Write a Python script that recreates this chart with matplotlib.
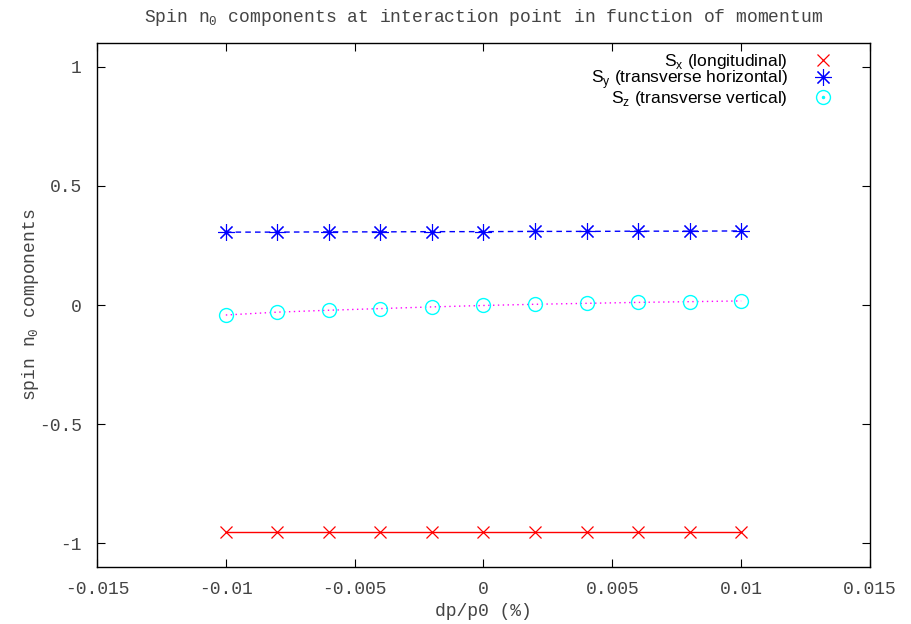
import numpy as np
import matplotlib.pyplot as plt
from matplotlib.lines import Line2D
from matplotlib.legend_handler import HandlerTuple

# momentum deviation and spin n0 components
dp = [-0.010, -0.008, -0.006, -0.004, -0.002, 0.000, 0.002, 0.004, 0.006, 0.008, 0.010]
s_x = [-0.953, -0.953, -0.953, -0.953, -0.953, -0.953, -0.953, -0.953, -0.953, -0.953, -0.953]
s_y = [0.306, 0.306, 0.307, 0.307, 0.308, 0.308, 0.309, 0.309, 0.310, 0.310, 0.311]
s_z = [-0.042, -0.030, -0.022, -0.015, -0.008, -0.002, 0.003, 0.007, 0.011, 0.014, 0.017]

x_ticks = [-0.015, -0.01, -0.005, 0, 0.005, 0.01, 0.015]
y_ticks = [-1, -0.5, 0, 0.5, 1]
x_ticklabels = ['-0.015', '-0.01', '-0.005', '0', '0.005', '0.01', '0.015']
y_ticklabels = ['-1', '-0.5', '0', '0.5', '1']

mono = 'Liberation Mono'
sans = 'Liberation Sans'
txt_col = '#444444'
plt.rcParams['mathtext.fontset'] = 'custom'
plt.rcParams['mathtext.rm'] = sans
plt.rcParams['mathtext.tt'] = mono
plt.rcParams['axes.unicode_minus'] = False

fig = plt.figure(figsize=(9.12, 6.24), dpi=100)
ax = fig.add_axes([97 / 912, 57 / 624, 773 / 912, 524 / 624])

ax.plot(dp, s_x, color='red', lw=1.0, marker='x', ms=9, mew=0.9)
ax.plot(dp, s_y, color='blue', lw=1.0, ls=(0, (4, 3)), marker=(8, 2, 0), ms=12, mew=0.8)
ax.plot(dp, s_z, color='magenta', lw=1.0, ls=(0, (1, 2.5)))
ax.plot(dp, s_z, color='cyan', ls='none', marker='o', mfc='none', ms=10, mew=1.0)

ax.set_xlim(-0.015, 0.015)
ax.set_ylim(-1.1, 1.1)
ax.set_xticks(x_ticks)
ax.set_xticklabels(x_ticklabels)
ax.set_yticks(y_ticks)
ax.set_yticklabels(y_ticklabels)
ax.tick_params(direction='in', top=True, right=True, length=6, width=0.8,
               labelsize=13, colors='black')
ax.tick_params(axis='x', pad=10)
ax.tick_params(axis='y', pad=11)
for lab in ax.get_xticklabels() + ax.get_yticklabels():
    lab.set_family(mono)
    lab.set_color(txt_col)
for sp in ax.spines.values():
    sp.set_linewidth(1.0)

ax.set_title(r'Spin n$_\mathtt{0}$ components at interaction point in function of momentum',
             family=mono, fontsize=13, pad=15, color=txt_col)
ax.set_xlabel('dp/p0 (%)', family=mono, fontsize=13, labelpad=4, color=txt_col)
ax.set_ylabel(r'spin n$_\mathtt{0}$ components', family=mono, fontsize=13, labelpad=-2,
              color=txt_col)

h_x = Line2D([], [], color='red', ls='none', marker='x', ms=9, mew=0.9)
h_y = Line2D([], [], color='blue', ls='none', marker=(8, 2, 0), ms=12, mew=0.8)
h_z = (Line2D([], [], color='cyan', ls='none', marker='o', mfc='none', ms=10, mew=1.0),
       Line2D([], [], color='cyan', ls='none', marker='o', ms=1.5))
ax.legend([h_x, h_y, h_z],
          [r'S$_\mathrm{x}$ (longitudinal)', r'S$_\mathrm{y}$ (transverse horizontal)',
           r'S$_\mathrm{z}$ (transverse vertical)'],
          handler_map={tuple: HandlerTuple(ndivide=1, pad=0)},
          loc='upper right', bbox_to_anchor=(0.951, 0.983), frameon=False,
          markerfirst=False, handlelength=1.0, handletextpad=1.55,
          borderpad=0, borderaxespad=0, labelspacing=-0.15,
          prop={'family': sans, 'size': 12.5})

fig.savefig('out.png', dpi=100)
